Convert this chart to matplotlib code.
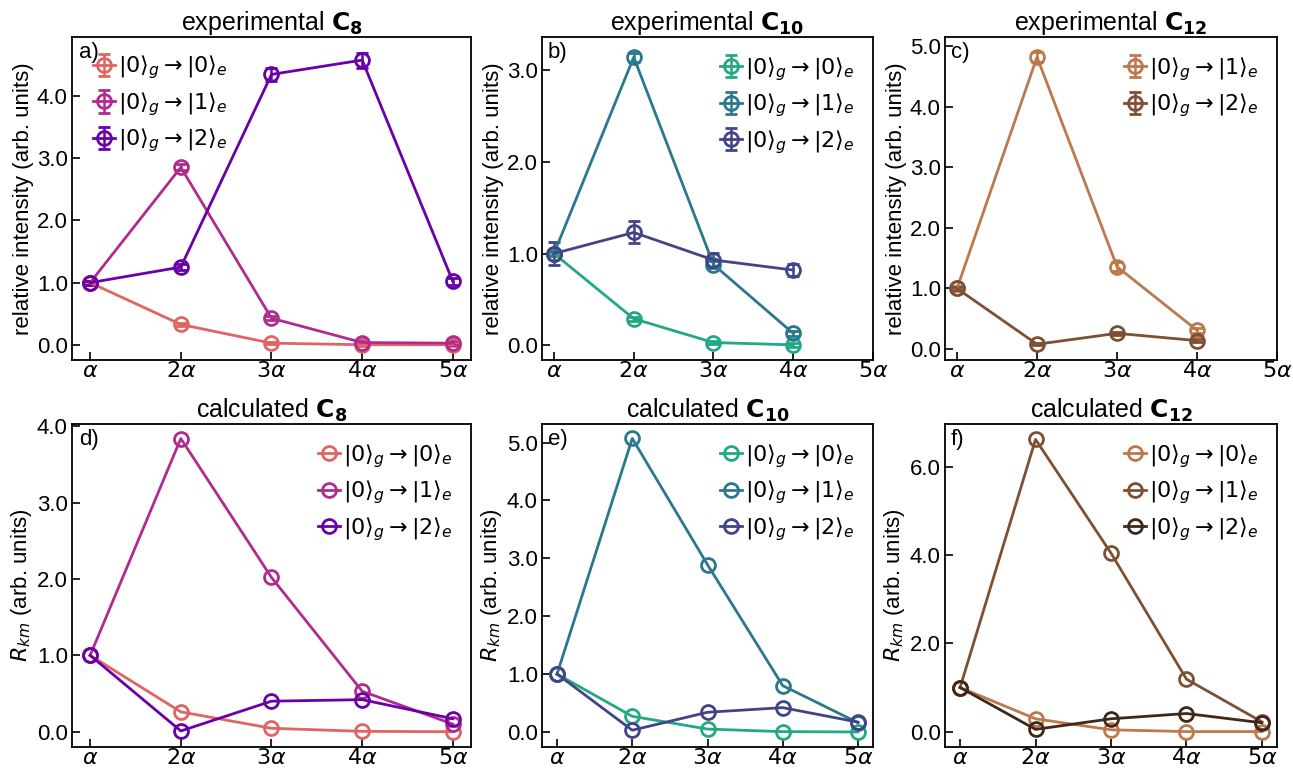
import numpy as np
import matplotlib
matplotlib.use("Agg")
import matplotlib.pyplot as plt

# ---------------- data ----------------
xlabels = [r'$\alpha$', r'$2\alpha$', r'$3\alpha$', r'$4\alpha$', r'$5\alpha$']
x5 = [1, 2, 3, 4, 5]
x4 = [1, 2, 3, 4]

lab0 = r'$|0\rangle_g \rightarrow |0\rangle_e$'
lab1 = r'$|0\rangle_g \rightarrow |1\rangle_e$'
lab2 = r'$|0\rangle_g \rightarrow |2\rangle_e$'

# experimental C8
expC8_00 = [1.0, 0.33, 0.03, 0.005, 0.005]
expC8_00_err = [0.02, 0.02, 0.02, 0.02, 0.02]
expC8_01 = [1.0, 2.85, 0.43, 0.04, 0.03]
expC8_01_err = [0.03, 0.05, 0.03, 0.03, 0.03]
expC8_02 = [1.0, 1.25, 4.34, 4.57, 1.02]
expC8_02_err = [0.03, 0.05, 0.10, 0.12, 0.05]

# experimental C10
expC10_00 = [1.0, 0.29, 0.03, 0.005]
expC10_00_err = [0.02, 0.02, 0.02, 0.02]
expC10_01 = [1.0, 3.14, 0.88, 0.13]
expC10_01_err = [0.03, 0.05, 0.04, 0.03]
expC10_02 = [1.0, 1.23, 0.93, 0.82]
expC10_02_err = [0.13, 0.12, 0.08, 0.07]

# experimental C12
expC12_01 = [1.0, 4.82, 1.36, 0.31]
expC12_01_err = [0.04, 0.08, 0.07, 0.04]
expC12_02 = [1.0, 0.08, 0.26, 0.14]
expC12_02_err = [0.03, 0.02, 0.02, 0.02]

# calculated C8
calC8_00 = [1.0, 0.26, 0.045, 0.005, 0.0]
calC8_01 = [1.0, 3.84, 2.02, 0.53, 0.10]
calC8_02 = [1.0, 0.01, 0.40, 0.42, 0.17]

# calculated C10
calC10_00 = [1.0, 0.27, 0.05, 0.005, 0.0]
calC10_01 = [1.0, 5.07, 2.89, 0.80, 0.16]
calC10_02 = [1.0, 0.03, 0.34, 0.42, 0.17]

# calculated C12
calC12_00 = [1.0, 0.29, 0.04, 0.0, 0.0]
calC12_01 = [1.0, 6.63, 4.05, 1.19, 0.22]
calC12_02 = [1.0, 0.05, 0.29, 0.41, 0.20]

# ---------------- style ----------------
plasma = plt.get_cmap('plasma')
viridis = plt.get_cmap('viridis')
copper = plt.get_cmap('copper')
cA = [plasma(0.6), plasma(0.4), plasma(0.2)]
cB = [viridis(0.6), viridis(0.4), viridis(0.2)]
cC = [copper(0.6), copper(0.4), copper(0.2)]

FS = 16
TFS = 18
plt.rcParams['mathtext.fontset'] = 'dejavusans'
plt.rcParams['font.family'] = ['Liberation Sans', 'DejaVu Sans']

W, H = 1293, 769
fig = plt.figure(figsize=(W / 100, H / 100), dpi=100)


def make_ax(l, r, t, b):
    return fig.add_axes([l / W, 1 - b / H, (r - l) / W, (b - t) / H])


cols = [(72, 471), (542, 873), (945, 1277)]
rows = [(37, 360), (424, 747)]

axes = [[make_ax(c[0], c[1], r[0], r[1]) for c in cols] for r in rows]

mk = dict(marker='o', mfc='none', ms=10, mew=2.0, lw=2.0)
ek = dict(capsize=4.5, elinewidth=1.8, capthick=1.8)


def style(ax, ylim, yticks, xlim, label, ylabel, title):
    ax.set_xlim(*xlim)
    ax.set_ylim(*ylim)
    ax.set_xticks(x5)
    ax.set_xticklabels(xlabels)
    ax.set_yticks(yticks)
    ax.set_yticklabels(['%.1f' % v for v in yticks])
    ax.tick_params(direction='in', labelsize=FS, length=6, width=1.2,
                   top=False, right=False, pad=3)
    ax.tick_params(axis='x', pad=1)
    for s in ax.spines.values():
        s.set_linewidth(1.3)
    ax.set_ylabel(ylabel, fontsize=FS, labelpad=2)
    ax.set_title(title, fontsize=TFS, pad=3)
    ax.text(0.018, 0.985, label, transform=ax.transAxes, fontsize=FS,
            ha='left', va='top')


def legend(ax, **kw):
    ax.legend(frameon=False, fontsize=FS, handlelength=1.0,
              handletextpad=0.15, labelspacing=0.39, **kw)


ylab_exp = 'relative intensity (arb. units)'
ylab_cal = r'$R_{km}$ (arb. units)'

# a) experimental C8
ax = axes[0][0]
ax.errorbar(x5, expC8_00, yerr=expC8_00_err, color=cA[0], label=lab0, **mk, **ek)
ax.errorbar(x5, expC8_01, yerr=expC8_01_err, color=cA[1], label=lab1, **mk, **ek)
ax.errorbar(x5, expC8_02, yerr=expC8_02_err, color=cA[2], label=lab2, **mk, **ek)
style(ax, (-0.24, 4.94), [0, 1, 2, 3, 4], (0.8, 5.2), 'a)', ylab_exp,
      r'experimental $\mathbf{C_{8}}$')
legend(ax, loc='upper left', bbox_to_anchor=(0.018, 0.99), borderaxespad=0.2)

# b) experimental C10
ax = axes[0][1]
ax.errorbar(x4, expC10_00, yerr=expC10_00_err, color=cB[0], label=lab0, **mk, **ek)
ax.errorbar(x4, expC10_01, yerr=expC10_01_err, color=cB[1], label=lab1, **mk, **ek)
ax.errorbar(x4, expC10_02, yerr=expC10_02_err, color=cB[2], label=lab2, **mk, **ek)
style(ax, (-0.16, 3.36), [0, 1, 2, 3], (0.85, 5.0), 'b)', ylab_exp,
      r'experimental $\mathbf{C_{10}}$')
legend(ax, loc='upper right', borderaxespad=0.4)

# c) experimental C12
ax = axes[0][2]
ax.errorbar(x4, expC12_01, yerr=expC12_01_err, color=cC[0], label=lab1, **mk, **ek)
ax.errorbar(x4, expC12_02, yerr=expC12_02_err, color=cC[1], label=lab2, **mk, **ek)
style(ax, (-0.18, 5.15), [0, 1, 2, 3, 4, 5], (0.85, 5.0), 'c)', ylab_exp,
      r'experimental $\mathbf{C_{12}}$')
legend(ax, loc='upper right', borderaxespad=0.4)

# d) calculated C8
ax = axes[1][0]
ax.plot(x5, calC8_00, color=cA[0], label=lab0, **mk)
ax.plot(x5, calC8_01, color=cA[1], label=lab1, **mk)
ax.plot(x5, calC8_02, color=cA[2], label=lab2, **mk)
style(ax, (-0.2, 4.03), [0, 1, 2, 3, 4], (0.8, 5.2), 'd)', ylab_cal,
      r'calculated $\mathbf{C_{8}}$')
legend(ax, loc='upper right', borderaxespad=0.4)

# e) calculated C10
ax = axes[1][1]
ax.plot(x5, calC10_00, color=cB[0], label=lab0, **mk)
ax.plot(x5, calC10_01, color=cB[1], label=lab1, **mk)
ax.plot(x5, calC10_02, color=cB[2], label=lab2, **mk)
style(ax, (-0.26, 5.32), [0, 1, 2, 3, 4, 5], (0.8, 5.2), 'e)', ylab_cal,
      r'calculated $\mathbf{C_{10}}$')
legend(ax, loc='upper right', borderaxespad=0.4)

# f) calculated C12
ax = axes[1][2]
ax.plot(x5, calC12_00, color=cC[0], label=lab0, **mk)
ax.plot(x5, calC12_01, color=cC[1], label=lab1, **mk)
ax.plot(x5, calC12_02, color=cC[2], label=lab2, **mk)
style(ax, (-0.35, 6.98), [0, 2, 4, 6], (0.8, 5.2), 'f)', ylab_cal,
      r'calculated $\mathbf{C_{12}}$')
legend(ax, loc='upper right', borderaxespad=0.4)

fig.savefig('out.png', dpi=100)
